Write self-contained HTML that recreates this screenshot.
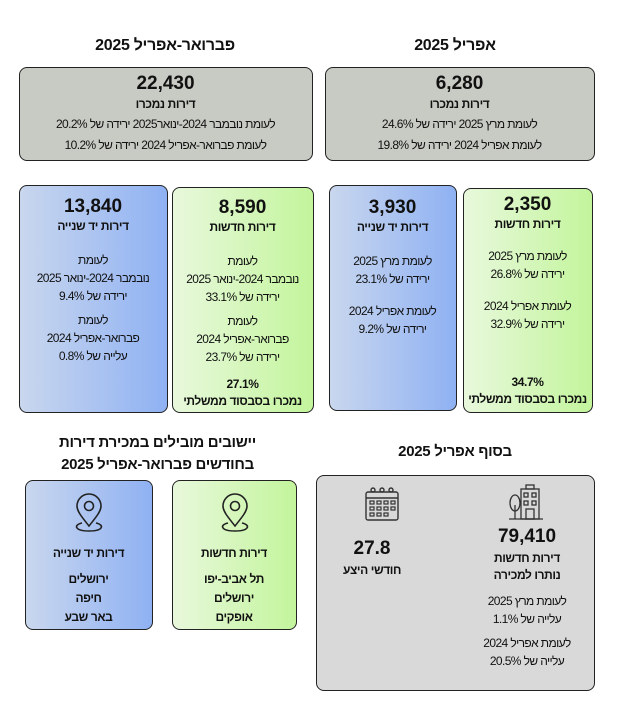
<!DOCTYPE html>
<html><head><meta charset="utf-8"><style>
body{margin:0;width:623px;height:728px;background:#fff;font-family:"Liberation Sans","DejaVu Sans",sans-serif;color:#111;position:relative;overflow:hidden}
.a{position:absolute;text-align:center;direction:rtl;white-space:nowrap}
.box{position:absolute;border:1.5px solid #222;border-radius:8px;box-sizing:border-box}
.gray{background:#c8cbc4}
.blue{background:linear-gradient(to right,#c9d7ee,#8fb1f3)}
.green{background:linear-gradient(to right,#e8f8dc,#c3f59c)}
.t{font-weight:bold;font-size:16px;letter-spacing:-0.3px}
.n{font-weight:bold;font-size:19px;line-height:22px}
.h{font-weight:bold;font-size:12px;line-height:17px;letter-spacing:-0.4px}
.s{font-size:12px;line-height:18px;letter-spacing:-0.6px}
</style></head><body>
<div class="a t" style="left:40px;width:250px;top:37px">פברואר-אפריל 2025</div>
<div class="a t" style="left:330px;width:250px;top:37px">אפריל 2025</div>

<div class="box gray" style="left:19px;top:67px;width:294px;height:94px">
<div class="a" style="left:0;width:291px;top:5px"><div class="n">22,430</div><div class="h" style="margin-top:1px">דירות נמכרו</div><div class="s" style="margin-top:2px">לעומת נובמבר 2024-ינואר2025 ירידה של 20.2%</div><div class="s" style="margin-top:3px">לעומת פברואר-אפריל 2024 ירידה של 10.2%</div></div></div>
<div class="box gray" style="left:325px;top:67px;width:270px;height:94px">
<div class="a" style="left:0;width:267px;top:5px"><div class="n">6,280</div><div class="h" style="margin-top:1px">דירות נמכרו</div><div class="s" style="margin-top:2px">לעומת מרץ 2025 ירידה של 24.6%</div><div class="s" style="margin-top:3px">לעומת אפריל 2024 ירידה של 19.8%</div></div></div>

<div class="box blue" style="left:19px;top:185px;width:149px;height:228px">
<div class="a" style="left:0;width:146px;top:10px"><div class="n">13,840</div><div class="h">דירות יד שנייה</div>
<div class="s" style="margin-top:16px">לעומת<br>נובמבר 2024-ינואר 2025<br>ירידה של 9.4%</div>
<div class="s" style="margin-top:6px">לעומת<br>פברואר-אפריל 2024<br>עלייה של 0.8%</div></div></div>

<div class="box green" style="left:172px;top:187px;width:142px;height:226px">
<div class="a" style="left:0;width:139px;top:9px"><div class="n">8,590</div><div class="h">דירות חדשות</div>
<div class="s" style="margin-top:16px">לעומת<br>נובמבר 2024-ינואר 2025<br>ירידה של 33.1%</div>
<div class="s" style="margin-top:6px">לעומת<br>פברואר-אפריל 2024<br>ירידה של 23.7%</div>
<div class="h" style="margin-top:10px">27.1%<br>נמכרו בסבסוד ממשלתי</div></div></div>

<div class="box blue" style="left:329px;top:185px;width:128px;height:226px">
<div class="a" style="left:0;width:125px;top:11px"><div class="n">3,930</div><div class="h">דירות יד שנייה</div>
<div class="s" style="margin-top:16px">לעומת מרץ 2025<br>ירידה של 23.1%</div>
<div class="s" style="margin-top:14px">לעומת אפריל 2024<br>ירידה של 9.2%</div></div></div>

<div class="box green" style="left:463px;top:188px;width:130px;height:225px">
<div class="a" style="left:0;width:127px;top:5px"><div class="n">2,350</div><div class="h">דירות חדשות</div>
<div class="s" style="margin-top:14px">לעומת מרץ 2025<br>ירידה של 26.8%</div>
<div class="s" style="margin-top:14px">לעומת אפריל 2024<br>ירידה של 32.9%</div></div>
<div class="a h" style="left:0;width:127px;top:185px">34.7%<br>נמכרו בסבסוד ממשלתי</div></div>

<div class="a t" style="left:20px;width:275px;top:432px;font-size:15px;line-height:22px">יישובים מובילים במכירת דירות<br>בחודשים פברואר-אפריל 2025</div>
<div class="a t" style="left:330px;width:250px;top:443px;font-size:15px">בסוף אפריל 2025</div>

<div class="box blue" style="left:25px;top:480px;width:128px;height:150px">
<svg style="position:absolute;left:45px;top:12px" width="36" height="42" viewBox="0 0 36 42" fill="none" stroke="#222" stroke-width="1.6"><path d="M18 33 C10 23 6 18 6 13 A12 12 0 0 1 30 13 C30 18 26 23 18 33Z"/><circle cx="18" cy="13" r="4.5"/><path d="M11 30 C2 32 4 38 18 38 C32 38 34 32 25 30"/></svg>
<div class="a" style="left:0;width:125px;top:64px"><div class="h">דירות יד שנייה</div><div class="h" style="margin-top:8px;line-height:19px">ירושלים<br>חיפה<br>באר שבע</div></div></div>

<div class="box green" style="left:172px;top:480px;width:125px;height:150px">
<svg style="position:absolute;left:44px;top:12px" width="36" height="42" viewBox="0 0 36 42" fill="none" stroke="#222" stroke-width="1.6"><path d="M18 33 C10 23 6 18 6 13 A12 12 0 0 1 30 13 C30 18 26 23 18 33Z"/><circle cx="18" cy="13" r="4.5"/><path d="M11 30 C2 32 4 38 18 38 C32 38 34 32 25 30"/></svg>
<div class="a" style="left:0;width:122px;top:64px"><div class="h">דירות חדשות</div><div class="h" style="margin-top:8px;line-height:19px">תל אביב-יפו<br>ירושלים<br>אופקים</div></div></div>

<div class="box" style="left:316px;top:475px;width:279px;height:216px;background:#d9d9d9">
<svg style="position:absolute;left:47px;top:10px" width="36" height="36" viewBox="0 0 36 36" fill="none" stroke="#333" stroke-width="1.4"><rect x="2" y="6" width="32" height="28" rx="2"/><line x1="2" y1="12" x2="34" y2="12"/><circle cx="9" cy="4" r="2"/><circle cx="18" cy="4" r="2"/><circle cx="27" cy="4" r="2"/><g stroke-width="1.2"><rect x="6" y="15" width="4" height="3"/><rect x="13" y="15" width="4" height="3"/><rect x="20" y="15" width="4" height="3"/><rect x="27" y="15" width="4" height="3"/><rect x="6" y="21" width="4" height="3"/><rect x="13" y="21" width="4" height="3"/><rect x="20" y="21" width="4" height="3"/><rect x="27" y="21" width="4" height="3"/><rect x="6" y="27" width="4" height="3"/><rect x="13" y="27" width="4" height="3"/><rect x="20" y="27" width="4" height="3"/></g></svg>
<svg style="position:absolute;left:190px;top:7px" width="38" height="38" viewBox="0 0 38 38" fill="none" stroke="#333" stroke-width="1.3"><rect x="14" y="6" width="18" height="30"/><rect x="19" y="2" width="8" height="4"/><rect x="17" y="10" width="4" height="4"/><rect x="25" y="10" width="4" height="4"/><rect x="17" y="18" width="4" height="4"/><rect x="25" y="18" width="4" height="4"/><rect x="19" y="26" width="8" height="10"/><ellipse cx="8" cy="20" rx="5" ry="8"/><line x1="8" y1="22" x2="8" y2="36"/><line x1="2" y1="36" x2="36" y2="36"/></svg>
<div class="a" style="left:5px;width:100px;top:62px"><div class="n">27.8</div><div class="h" style="margin-top:2px">חודשי היצע</div></div>
<div class="a" style="left:150px;width:120px;top:50px"><div class="n">79,410</div><div class="h" style="margin-top:2px">דירות חדשות<br>נותרו למכירה</div>
<div class="s" style="margin-top:8px">לעומת מרץ 2025<br>עלייה של 1.1%</div>
<div class="s" style="margin-top:6px">לעומת אפריל 2024<br>עלייה של 20.5%</div></div></div>
</body></html>
